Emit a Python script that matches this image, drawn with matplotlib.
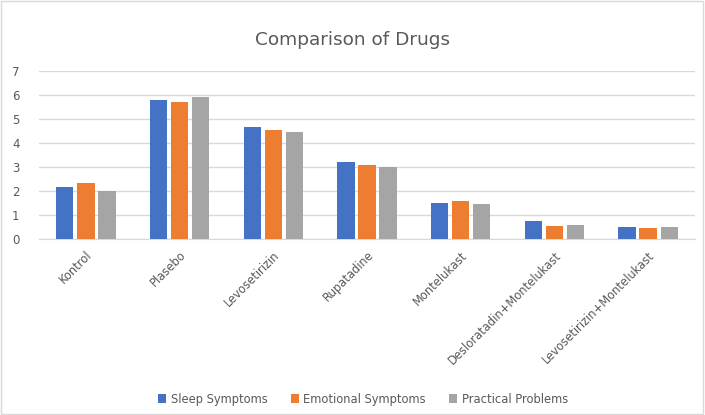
import numpy as np
import matplotlib
import matplotlib.pyplot as plt
from matplotlib.patches import Rectangle

matplotlib.use('Agg')

drugs = ["Kontrol", "Plasebo", "Levosetirizin", "Rupatadine", "Montelukast",
         "Desloratadin+Montelukast", "Levosetirizin+Montelukast"]
sleep = [2.15, 5.8, 4.65, 3.2, 1.5, 0.75, 0.5]
emotional = [2.35, 5.7, 4.55, 3.1, 1.6, 0.55, 0.45]
practical = [2.0, 5.9, 4.45, 3.0, 1.45, 0.6, 0.5]

series = [("Sleep Symptoms", sleep, "#4472C4"),
          ("Emotional Symptoms", emotional, "#ED7D31"),
          ("Practical Problems", practical, "#A5A5A5")]

text_color = "#595959"

fig = plt.figure(figsize=(7.05, 4.15), dpi=100)
ax = fig.add_axes([39 / 705, 1 - 239 / 415, 656 / 705, 168 / 415])

x = np.arange(len(drugs))
width = 0.185
gap = 0.04
for i, (name, vals, color) in enumerate(series):
    ax.bar(x + (i - 1) * (width + gap), vals, width, color=color,
           label=name, zorder=3)

ax.set_xlim(-0.5, len(drugs) - 0.5)
ax.set_ylim(0, 7)
ax.set_yticks(range(0, 8))
ax.yaxis.grid(True, color="#D9D9D9", linewidth=1, zorder=0)
ax.set_xticks(x)
ax.set_xticklabels(drugs, rotation=45, ha="right", rotation_mode="anchor",
                   color=text_color, fontsize=8.3)
ax.tick_params(axis="y", length=0, labelcolor=text_color, labelsize=8.5, pad=14)
ax.tick_params(axis="x", length=0, pad=7)
for side in ["top", "right", "left"]:
    ax.spines[side].set_visible(False)
ax.spines["bottom"].set_color("#D9D9D9")

fig.text(0.5, 1 - 40 / 415, "Comparison of Drugs", ha="center", va="center",
         fontsize=13.3, color=text_color)

fig.legend(loc="center", bbox_to_anchor=(0.515, 1 - 399 / 415), ncol=3,
           frameon=False, fontsize=8.3, labelcolor=text_color,
           handlelength=0.7, handleheight=0.7, handletextpad=0.4,
           columnspacing=2.0)

# light chart border
fig.patches.append(Rectangle((0.001, 0.002), 0.996, 0.995, transform=fig.transFigure,
                             fill=False, edgecolor="#D9D9D9", linewidth=1))

fig.savefig("out.png", dpi=100)
plt.close(fig)
